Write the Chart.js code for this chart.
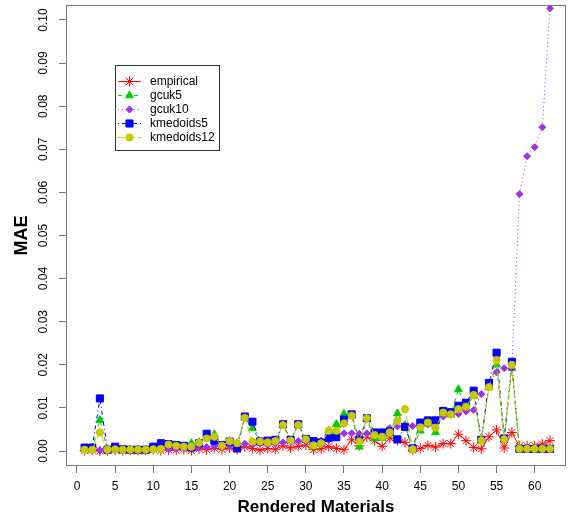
<!DOCTYPE html>
<html>
<head>
<meta charset="utf-8">
<script src="https://cdn.jsdelivr.net/npm/chart.js@4.4.1/dist/chart.umd.min.js"></script>
<style>
  html, body { margin: 0; padding: 0; background: #fff; }
  #wrap { width: 569px; height: 520px; }
</style>
</head>
<body>
<div id="wrap"><canvas id="maeChart" width="569" height="520"></canvas></div>
<script>
const materials = [1, 2, 3, 4, 5, 6, 7, 8, 9, 10, 11, 12, 13, 14, 15, 16, 17, 18, 19, 20,
  21, 22, 23, 24, 25, 26, 27, 28, 29, 30, 31, 32, 33, 34, 35, 36, 37, 38, 39, 40,
  41, 42, 43, 44, 45, 46, 47, 48, 49, 50, 51, 52, 53, 54, 55, 56, 57, 58, 59, 60, 61, 62]

const empirical = [0.0001, 0.0002, 0.0000, 0.0001, 0.0002, 0.0001, 0.0002, 0.0001, 0.0002, 0.0003,
  0.0001, 0.0003, 0.0002, 0.0004, 0.0001, 0.0005, 0.0003, 0.0006, 0.0004, 0.0007,
  0.0004, 0.0010, 0.0006, 0.0002, 0.0006, 0.0004, 0.0012, 0.0007, 0.0011, 0.0014,
  0.0003, 0.0005, 0.0010, 0.0006, 0.0003, 0.0026, 0.0012, 0.0032, 0.0024, 0.0011,
  0.0030, 0.0025, 0.0020, 0.0002, 0.0006, 0.0013, 0.0009, 0.0017, 0.0017, 0.0039,
  0.0024, 0.0008, 0.0005, 0.0033, 0.0049, 0.0007, 0.0043, 0.0011, 0.0012, 0.0012,
  0.0016, 0.0024]

const gcuk5 = [0.0003, 0.0003, 0.0072, 0.0002, 0.0003, 0.0003, 0.0003, 0.0003, 0.0003, 0.0005,
  0.0006, 0.0014, 0.0012, 0.0010, 0.0018, 0.0020, 0.0032, 0.0039, 0.0012, 0.0023,
  0.0018, 0.0077, 0.0053, 0.0022, 0.0020, 0.0023, 0.0060, 0.0024, 0.0060, 0.0027,
  0.0010, 0.0018, 0.0047, 0.0062, 0.0086, 0.0082, 0.0010, 0.0074, 0.0029, 0.0030,
  0.0040, 0.0087, 0.0060, 0.0004, 0.0047, 0.0063, 0.0043, 0.0088, 0.0084, 0.0143,
  0.0100, 0.0128, 0.0024, 0.0148, 0.0200, 0.0025, 0.0192, 0.0005, 0.0005, 0.0005,
  0.0005, 0.0005]

const gcuk10 = [0.0002, 0.0001, 0.0002, 0.0001, 0.0002, 0.0002, 0.0002, 0.0002, 0.0003, 0.0003,
  0.0005, 0.0005, 0.0006, 0.0006, 0.0007, 0.0008, 0.0009, 0.0011, 0.0010, 0.0012,
  0.0015, 0.0017, 0.0016, 0.0018, 0.0016, 0.0017, 0.0020, 0.0020, 0.0023, 0.0022,
  0.0023, 0.0024, 0.0026, 0.0040, 0.0041, 0.0041, 0.0040, 0.0041, 0.0040, 0.0041,
  0.0053, 0.0057, 0.0058, 0.0058, 0.0059, 0.0062, 0.0066, 0.0080, 0.0084, 0.0086,
  0.0092, 0.0095, 0.0132, 0.0155, 0.0183, 0.0192, 0.0192, 0.0596, 0.0684, 0.0705,
  0.0751, 0.1027]

const kmedoids5 = [0.0008, 0.0008, 0.0122, 0.0003, 0.0010, 0.0004, 0.0003, 0.0003, 0.0003, 0.0010,
  0.0018, 0.0016, 0.0014, 0.0012, 0.0008, 0.0018, 0.0040, 0.0024, 0.0014, 0.0022,
  0.0006, 0.0080, 0.0068, 0.0022, 0.0024, 0.0026, 0.0062, 0.0026, 0.0062, 0.0028,
  0.0023, 0.0020, 0.0030, 0.0032, 0.0073, 0.0085, 0.0026, 0.0076, 0.0043, 0.0043,
  0.0045, 0.0027, 0.0056, 0.0006, 0.0066, 0.0071, 0.0071, 0.0093, 0.0090, 0.0105,
  0.0112, 0.0140, 0.0026, 0.0158, 0.0228, 0.0029, 0.0207, 0.0005, 0.0005, 0.0005,
  0.0005, 0.0005]

const kmedoids12 = [0.0003, 0.0003, 0.0043, 0.0003, 0.0004, 0.0003, 0.0003, 0.0003, 0.0003, 0.0004,
  0.0005, 0.0015, 0.0012, 0.0010, 0.0010, 0.0019, 0.0029, 0.0033, 0.0012, 0.0023,
  0.0018, 0.0077, 0.0022, 0.0022, 0.0020, 0.0023, 0.0060, 0.0024, 0.0060, 0.0027,
  0.0013, 0.0018, 0.0047, 0.0047, 0.0064, 0.0082, 0.0022, 0.0076, 0.0037, 0.0033,
  0.0043, 0.0070, 0.0097, 0.0004, 0.0055, 0.0066, 0.0054, 0.0089, 0.0085, 0.0097,
  0.0103, 0.0130, 0.0024, 0.0148, 0.0211, 0.0027, 0.0200, 0.0005, 0.0005, 0.0005,
  0.0005, 0.0005]

const xTicks = [0, 5, 10, 15, 20, 25, 30, 35, 40, 45, 50, 55, 60]
const yTicks = [0, 0.01, 0.02, 0.03, 0.04, 0.05, 0.06, 0.07, 0.08, 0.09, 0.10]

const FONT = '"Liberation Sans", Arial, sans-serif'
const AXIS_GREY = '#7a7a7a'

const toPoints = ys => materials.map((x, i) => ({ x, y: ys[i] }))

const series = (label, ys, color, pointStyle, radius, dash, order) => ({
  label,
  data: toPoints(ys),
  borderColor: color,
  backgroundColor: color,
  pointBackgroundColor: color,
  pointBorderColor: color,
  pointStyle,
  pointRadius: radius,
  pointBorderWidth: 1,
  borderWidth: 1,
  borderDash: dash,
  tension: 0,
  order,
})

const datasets = [
  series('empirical', empirical, '#ff0000', 'star', 5, [], 5),
  series('gcuk5', gcuk5, '#00cc00', 'triangle', 4.5, [4, 4], 4),
  series('gcuk10', gcuk10, '#a030f0', 'rectRot', 3.5, [1, 3], 3),
  series('kmedoids5', kmedoids5, '#0000ff', 'rect', 5, [1, 3, 4, 3], 2),
  series('kmedoids12', kmedoids12, '#c8c800', 'circle', 3.6, [7, 3], 1),
]

// box round the plot + rotated y labels, R style
const frame = {
  id: 'frame',
  afterDraw(chart) {
    const { ctx, chartArea: a } = chart
    const y = chart.scales.y
    ctx.save()
    ctx.strokeStyle = AXIS_GREY
    ctx.lineWidth = 1
    ctx.strokeRect(Math.round(a.left) + 0.5, Math.round(a.top) + 0.5,
      Math.round(a.right - a.left) - 1, Math.round(a.bottom - a.top) - 1)
    ctx.fillStyle = '#000'
    ctx.font = '12px ' + FONT
    ctx.textAlign = 'center'
    ctx.textBaseline = 'middle'
    yTicks.forEach(v => {
      ctx.save()
      ctx.translate(44, y.getPixelForValue(v))
      ctx.rotate(-Math.PI / 2)
      ctx.fillText(v.toFixed(2), 0, 0)
      ctx.restore()
    })
    ctx.restore()
  },
}

// legend box sitting inside the plot
const boxLegend = {
  id: 'boxLegend',
  afterDraw(chart) {
    const { ctx } = chart
    ctx.save()
    ctx.strokeStyle = '#333'
    ctx.lineWidth = 1
    ctx.strokeRect(115.5, 65.5, 104, 85)
    ctx.font = '12px ' + FONT
    ctx.textBaseline = 'middle'
    ctx.textAlign = 'left'
    chart.data.datasets.forEach((ds, i) => {
      const ly = 81 + i * 14
      ctx.strokeStyle = ds.borderColor
      ctx.fillStyle = ds.borderColor
      ctx.setLineDash(ds.borderDash)
      ctx.beginPath()
      ctx.moveTo(118, ly + 0.5)
      ctx.lineTo(141, ly + 0.5)
      ctx.stroke()
      ctx.setLineDash([])
      Chart.helpers.drawPoint(ctx, {
        pointStyle: ds.pointStyle, radius: ds.pointRadius, rotation: 0, borderWidth: 1,
      }, 129.5, ly + 0.5)
      ctx.fillStyle = '#000'
      ctx.fillText(ds.label, 150, ly + 1)
    })
    ctx.restore()
  },
}

new Chart(document.getElementById('maeChart'), {
  type: 'line',
  data: { datasets },
  plugins: [frame, boxLegend],
  options: {
    responsive: false,
    animation: false,
    devicePixelRatio: 1,
    layout: { autoPadding: false, padding: { left: 0, right: 3, top: 5, bottom: 0 } },
    plugins: { legend: { display: false }, tooltip: { enabled: false } },
    scales: {
      x: {
        type: 'linear',
        min: -1.44,
        max: 64.1,
        afterBuildTicks: s => { s.ticks = xTicks.map(value => ({ value })) },
        afterFit: s => { s.height = 54 },
        grid: { drawOnChartArea: false, drawTicks: true, tickLength: 7, color: AXIS_GREY },
        border: { display: false },
        ticks: {
          autoSkip: false, maxRotation: 0, padding: 6, color: '#000',
          font: { family: FONT, size: 12 },
        },
        title: {
          display: true, text: 'Rendered Materials', color: '#000',
          font: { family: FONT, size: 17, weight: 'bold' },
          padding: { top: 0, bottom: 2 },
        },
      },
      y: {
        type: 'linear',
        min: -0.00348,
        max: 0.10348,
        afterBuildTicks: s => { s.ticks = yTicks.map(value => ({ value })) },
        afterFit: s => { s.width = 66 },
        grid: { drawOnChartArea: false, drawTicks: true, tickLength: 7, color: AXIS_GREY },
        border: { display: false },
        ticks: { display: false },
        title: {
          display: true, text: 'MAE', color: '#000',
          font: { family: FONT, size: 18, weight: 'bold' },
          padding: { top: 11, bottom: 0 },
        },
      },
    },
  },
})
</script>
</body>
</html>
